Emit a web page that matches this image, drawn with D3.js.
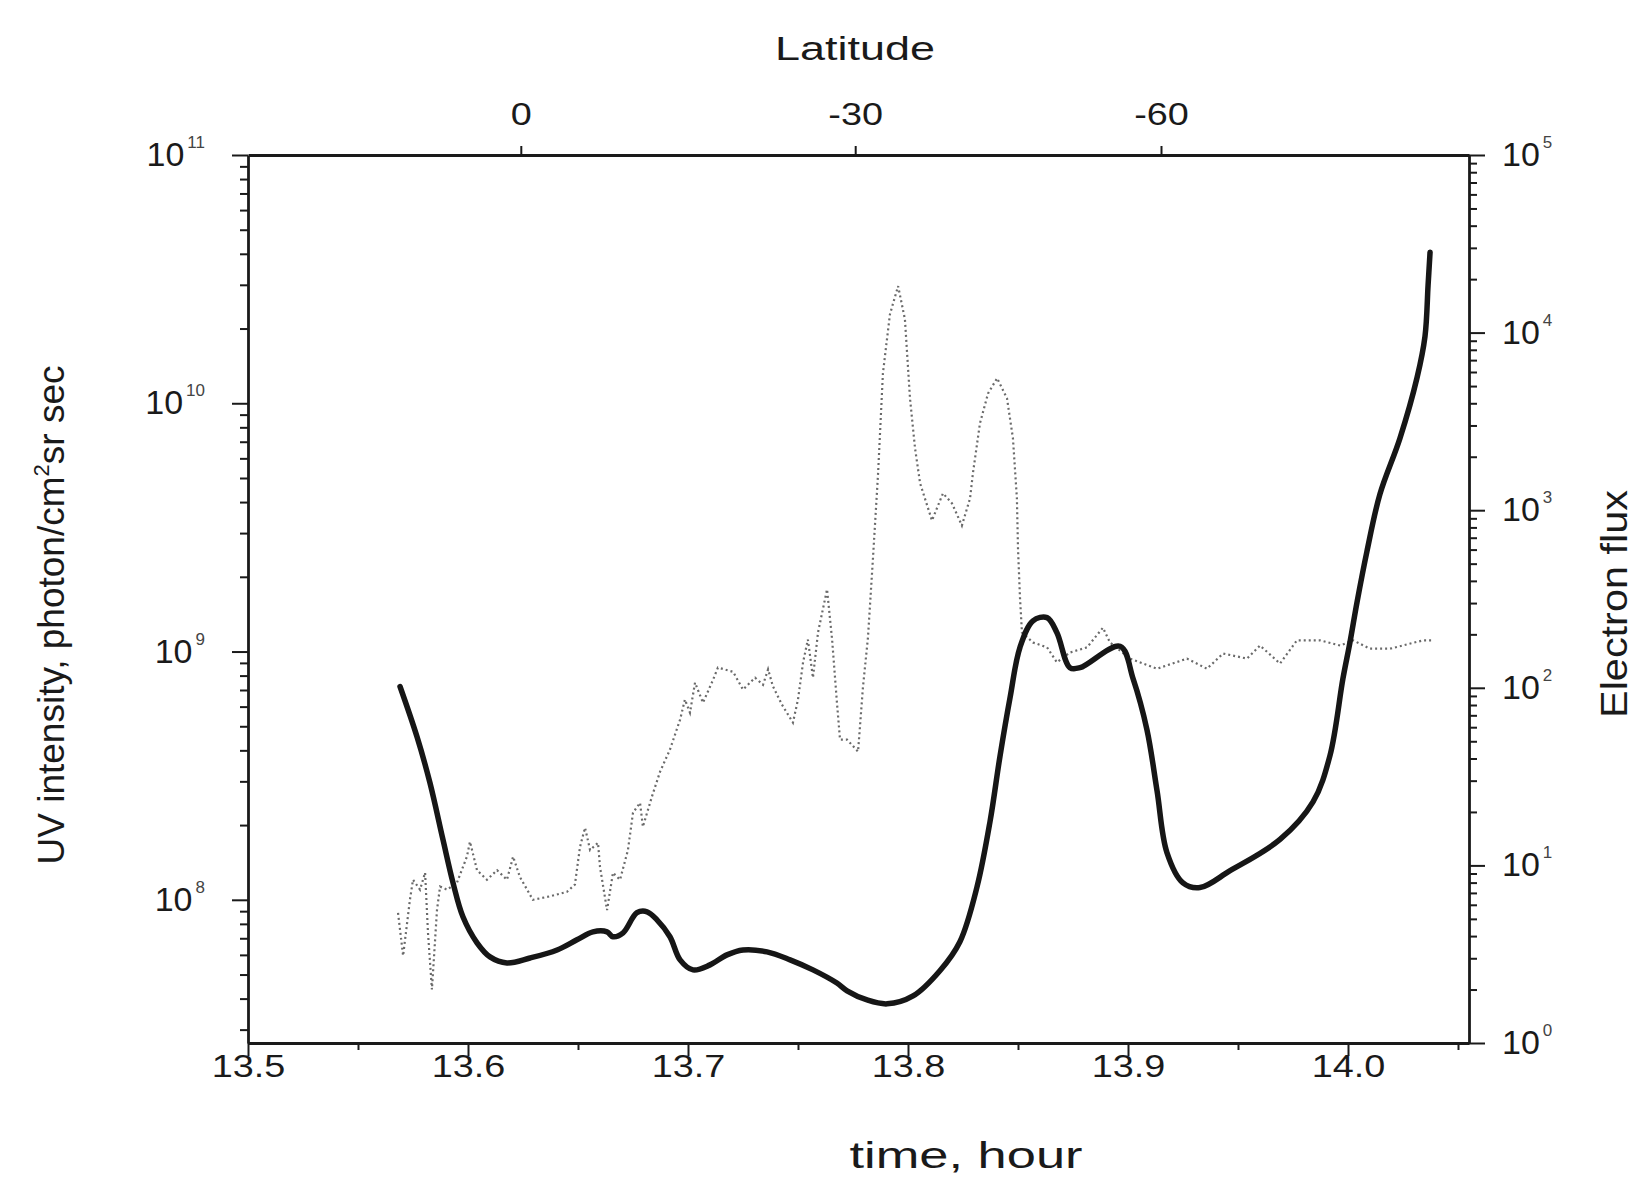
<!DOCTYPE html>
<html>
<head>
<meta charset="utf-8">
<script src="https://cdn.jsdelivr.net/npm/d3@7"></script>
<style>
    body { margin: 0; background: #fff; }
    text { font-family: "Liberation Sans", Arial, sans-serif; fill: #1a1a1a; }
</style>
</head>
<body>
<svg id="chart" width="1634" height="1179"></svg>
<script>
// time axis (hours) and latitude marks on top
const timeTicks = [13.5, 13.6, 13.7, 13.8, 13.9, 14.0];
const latLabels = [0, -30, -60];
const latTimes = [13.624, 13.776, 13.915];

// decades shown on the two log axes
const uvExp = [8, 9, 10, 11];
const fluxExp = [0, 1, 2, 3, 4, 5];

// UV intensity (thick line, left axis)
const uvTime = [13.5691, 13.5768, 13.5827, 13.5886, 13.5932, 13.5977, 13.6041, 13.6100, 13.6177, 13.6282,
    13.6405, 13.6495, 13.6568, 13.6632, 13.6659, 13.6705, 13.6768, 13.6814, 13.6859, 13.6918,
    13.6964, 13.7023, 13.7100, 13.7177, 13.7250, 13.7359, 13.7464, 13.7568, 13.7677, 13.7723,
    13.7814, 13.7905, 13.8023, 13.8145, 13.8236, 13.8314, 13.8373, 13.8418, 13.8464, 13.8509,
    13.8568, 13.8632, 13.8677, 13.8736, 13.8782, 13.8964, 13.9023, 13.9086, 13.9132, 13.9177,
    13.9250, 13.9327, 13.9464, 13.9691, 13.9841, 13.9918, 13.9977, 14.0009, 14.0041, 14.0086,
    14.0145, 14.0236, 14.0314, 14.0350, 14.0364, 14.0373];
const uvValue = [7.23e8, 4.54e8, 2.96e8, 1.75e8, 1.17e8, 8.54e7, 6.71e7, 5.89e7, 5.57e7, 5.83e7,
    6.28e7, 6.90e7, 7.43e7, 7.43e7, 7.10e7, 7.36e7, 8.87e7, 8.95e7, 8.30e7, 7.10e7,
    5.73e7, 5.22e7, 5.47e7, 6.00e7, 6.28e7, 6.17e7, 5.73e7, 5.22e7, 4.62e7, 4.30e7,
    3.95e7, 3.81e7, 4.10e7, 5.18e7, 6.78e7, 1.13e8, 2.07e8, 3.78e8, 6.53e8, 1.04e9,
    1.33e9, 1.37e9, 1.19e9, 8.61e8, 8.61e8, 1.05e9, 7.78e8, 4.85e8, 2.75e8, 1.55e8,
    1.17e8, 1.12e8, 1.31e8, 1.75e8, 2.48e8, 3.81e8, 7.78e8, 1.09e9, 1.58e9, 2.53e9,
    4.30e9, 7.22e9, 1.27e10, 1.86e10, 2.99e10, 4.06e10];

// electron flux (dotted line, right axis)
const fluxTime = [13.5682, 13.5705, 13.5736, 13.5750, 13.5782, 13.5805, 13.5818, 13.5836, 13.5859, 13.5873,
    13.5905, 13.5950, 13.5995, 13.6009, 13.6041, 13.6086, 13.6132, 13.6177, 13.6205, 13.6236,
    13.6295, 13.6373, 13.6450, 13.6486, 13.6509, 13.6532, 13.6555, 13.6591, 13.6600, 13.6632,
    13.6659, 13.6691, 13.6727, 13.6750, 13.6782, 13.6795, 13.6836, 13.6873, 13.6918, 13.6964,
    13.6986, 13.7009, 13.7032, 13.7068, 13.7114, 13.7136, 13.7205, 13.7250, 13.7305, 13.7341,
    13.7364, 13.7386, 13.7427, 13.7477, 13.7500, 13.7523, 13.7545, 13.7568, 13.7591, 13.7632,
    13.7655, 13.7677, 13.7691, 13.7723, 13.7773, 13.7795, 13.7818, 13.7841, 13.7864, 13.7886,
    13.7918, 13.7955, 13.7986, 13.8009, 13.8032, 13.8055, 13.8109, 13.8159, 13.8200, 13.8245,
    13.8282, 13.8295, 13.8327, 13.8364, 13.8405, 13.8450, 13.8477, 13.8495, 13.8500, 13.8509,
    13.8518, 13.8568, 13.8632, 13.8677, 13.8736, 13.8814, 13.8886, 13.8918, 13.9009, 13.9132,
    13.9268, 13.9359, 13.9432, 13.9541, 13.9600, 13.9691, 13.9768, 13.9873, 13.9964, 14.0023,
    14.0100, 14.0191, 14.0341, 14.0386];
const fluxValue = [5.4, 3.1, 6.4, 8.3, 7.3, 9.1, 4.2, 2.0, 5.6, 7.6,
    7.3, 8.0, 11.2, 13.6, 9.4, 8.3, 9.4, 8.3, 11.2, 8.6,
    6.4, 6.7, 7.1, 7.8, 12.7, 16.3, 12.2, 13.4, 9.8, 5.6,
    9.1, 8.3, 12.2, 19.8, 22.5, 16.5, 24.4, 33.7, 44.9, 66.2,
    85.9, 72.4, 107, 82.4, 111, 130, 123, 97.7, 114, 104,
    127, 102, 80.4, 63.7, 85.9, 139, 187, 114, 205, 358,
    187, 82.6, 51.1, 51.1, 43.7, 100, 192, 542, 1611, 5902,
    12700, 18270, 11900, 4266, 2230, 1416, 875, 1245, 1092, 820,
    1166, 1611, 3084, 4550, 5534, 4266, 2541, 1166, 609, 322,
    205, 180, 169, 139, 158, 169, 218, 180, 146, 128,
    146, 128, 156, 146, 173, 137, 185, 185, 173, 185,
    166, 166, 185, 185];

const svg = d3.select('#chart');
const pLeft = 248, pRight = 1469, pTop = 155, pBottom = 1043;

const x = d3.scaleLinear().domain([13.5, 14.055]).range([pLeft, pRight]);
const yL = d3.scaleLog().domain([2.65e7, 1e11]).range([pBottom, pTop]);
const yR = d3.scaleLog().domain([1, 1e5]).range([pBottom, pTop]);
const lat = d3.scaleOrdinal().domain(latTimes).range(latLabels);

function minors(scale) {
    const [lo, hi] = scale.domain();
    const out = [];
    for (let e = Math.floor(Math.log10(lo)); e < Math.ceil(Math.log10(hi)); e++)
        for (let m = 2; m < 10; m++) {
            const v = m * Math.pow(10, e);
            if (v >= lo && v <= hi) out.push(v);
        }
    return out;
}

// stretch text horizontally, the scan is a bit wide
function widen(sel, k) {
    sel.each(function () {
        const w = this.getComputedTextLength();
        d3.select(this).attr('textLength', w * k).attr('lengthAdjust', 'spacingAndGlyphs');
    });
}

function styleAxis(g) {
    g.select('.domain').attr('stroke', '#1a1a1a').attr('stroke-width', 2.8);
    g.selectAll('.tick line').attr('stroke', '#1a1a1a').attr('stroke-width', 2);
}

// bottom axis
const gB = svg.append('g').attr('transform', `translate(0,${pBottom})`)
    .call(d3.axisBottom(x).tickValues(timeTicks).tickSize(13).tickSizeOuter(0).tickFormat(d3.format('.1f')));
gB.call(styleAxis);
gB.selectAll('.tick text').attr('font-size', 31).attr('dy', 0).attr('y', 34)
    .attr('font-family', '"Liberation Sans", Arial, sans-serif').attr('fill', '#1a1a1a').call(widen, 1.22);
svg.append('g').attr('transform', `translate(0,${pBottom})`)
    .call(d3.axisBottom(x).tickValues(timeTicks.map(d => d + 0.05).filter(d => d < 14.055)).tickSize(7).tickSizeOuter(0).tickFormat(''))
    .call(styleAxis).select('.domain').remove();

// top axis (latitude)
const gT = svg.append('g').attr('transform', `translate(0,${pTop})`)
    .call(d3.axisTop(x).tickValues(latTimes).tickSize(9).tickSizeOuter(0).tickFormat(d => lat(d)));
gT.call(styleAxis);
gT.selectAll('.tick text').attr('font-size', 31).attr('dy', 0).attr('y', -30)
    .attr('font-family', '"Liberation Sans", Arial, sans-serif').attr('fill', '#1a1a1a').call(widen, 1.22);

// left axis
const gL = svg.append('g').attr('transform', `translate(${pLeft},0)`)
    .call(d3.axisLeft(yL).tickValues(uvExp.map(e => Math.pow(10, e))).tickSize(16).tickSizeOuter(0).tickFormat(''));
gL.call(styleAxis);
svg.append('g').attr('transform', `translate(${pLeft},0)`)
    .call(d3.axisLeft(yL).tickValues(minors(yL)).tickSize(8).tickSizeOuter(0).tickFormat(''))
    .call(styleAxis).select('.domain').remove();

// right axis
const gR = svg.append('g').attr('transform', `translate(${pRight},0)`)
    .call(d3.axisRight(yR).tickValues(fluxExp.map(e => Math.pow(10, e))).tickSize(16).tickSizeOuter(0).tickFormat(''));
gR.call(styleAxis);
svg.append('g').attr('transform', `translate(${pRight},0)`)
    .call(d3.axisRight(yR).tickValues(minors(yR)).tickSize(8).tickSizeOuter(0).tickFormat(''))
    .call(styleAxis).select('.domain').remove();

// power-of-ten labels
function powLabels(exps, scale, anchorX, side) {
    exps.forEach(e => {
        const yy = scale(Math.pow(10, e));
        const t = svg.append('text').attr('y', yy + 11).attr('font-size', 34);
        t.append('tspan').text('10');
        t.append('tspan').attr('font-size', 17).attr('dy', -18).attr('dx', 3).attr('fill', '#444').text(e);
        if (side === 'left') t.attr('x', anchorX).attr('text-anchor', 'end');
        else t.attr('x', anchorX);
    });
}
powLabels(uvExp, yL, 205, 'left');
powLabels(fluxExp, yR, 1502, 'right');

// titles
svg.append('text').attr('x', 855).attr('y', 60).attr('text-anchor', 'middle')
    .attr('font-size', 33).attr('textLength', 160).attr('lengthAdjust', 'spacingAndGlyphs').text('Latitude');
svg.append('text').attr('x', 966).attr('y', 1168).attr('text-anchor', 'middle')
    .attr('font-size', 37).attr('textLength', 233).attr('lengthAdjust', 'spacingAndGlyphs').text('time, hour');

const yt = svg.append('text').attr('transform', 'translate(64,615) rotate(-90)')
    .attr('text-anchor', 'middle').attr('font-size', 37);
yt.append('tspan').text('UV intensity, photon/cm');
yt.append('tspan').attr('font-size', 22).attr('dy', -15).text('2');
yt.append('tspan').attr('dy', 15).text('sr sec');

svg.append('text').attr('transform', 'translate(1627,604) rotate(-90)')
    .attr('text-anchor', 'middle').attr('font-size', 37)
    .attr('textLength', 228).attr('lengthAdjust', 'spacingAndGlyphs').text('Electron flux');

// series
const fluxData = d3.zip(fluxTime, fluxValue);
const uvData = d3.zip(uvTime, uvValue);

svg.append('path')
    .attr('d', d3.line().x(d => x(d[0])).y(d => yR(d[1]))(fluxData))
    .attr('fill', 'none')
    .attr('stroke', '#6a6a6a')
    .attr('stroke-width', 2.2)
    .attr('stroke-dasharray', '2,3');

svg.append('path')
    .attr('d', d3.line().curve(d3.curveCatmullRom).x(d => x(d[0])).y(d => yL(d[1]))(uvData))
    .attr('fill', 'none')
    .attr('stroke', '#161616')
    .attr('stroke-width', 5.5)
    .attr('stroke-linejoin', 'round')
    .attr('stroke-linecap', 'round');
</script>
</body>
</html>
